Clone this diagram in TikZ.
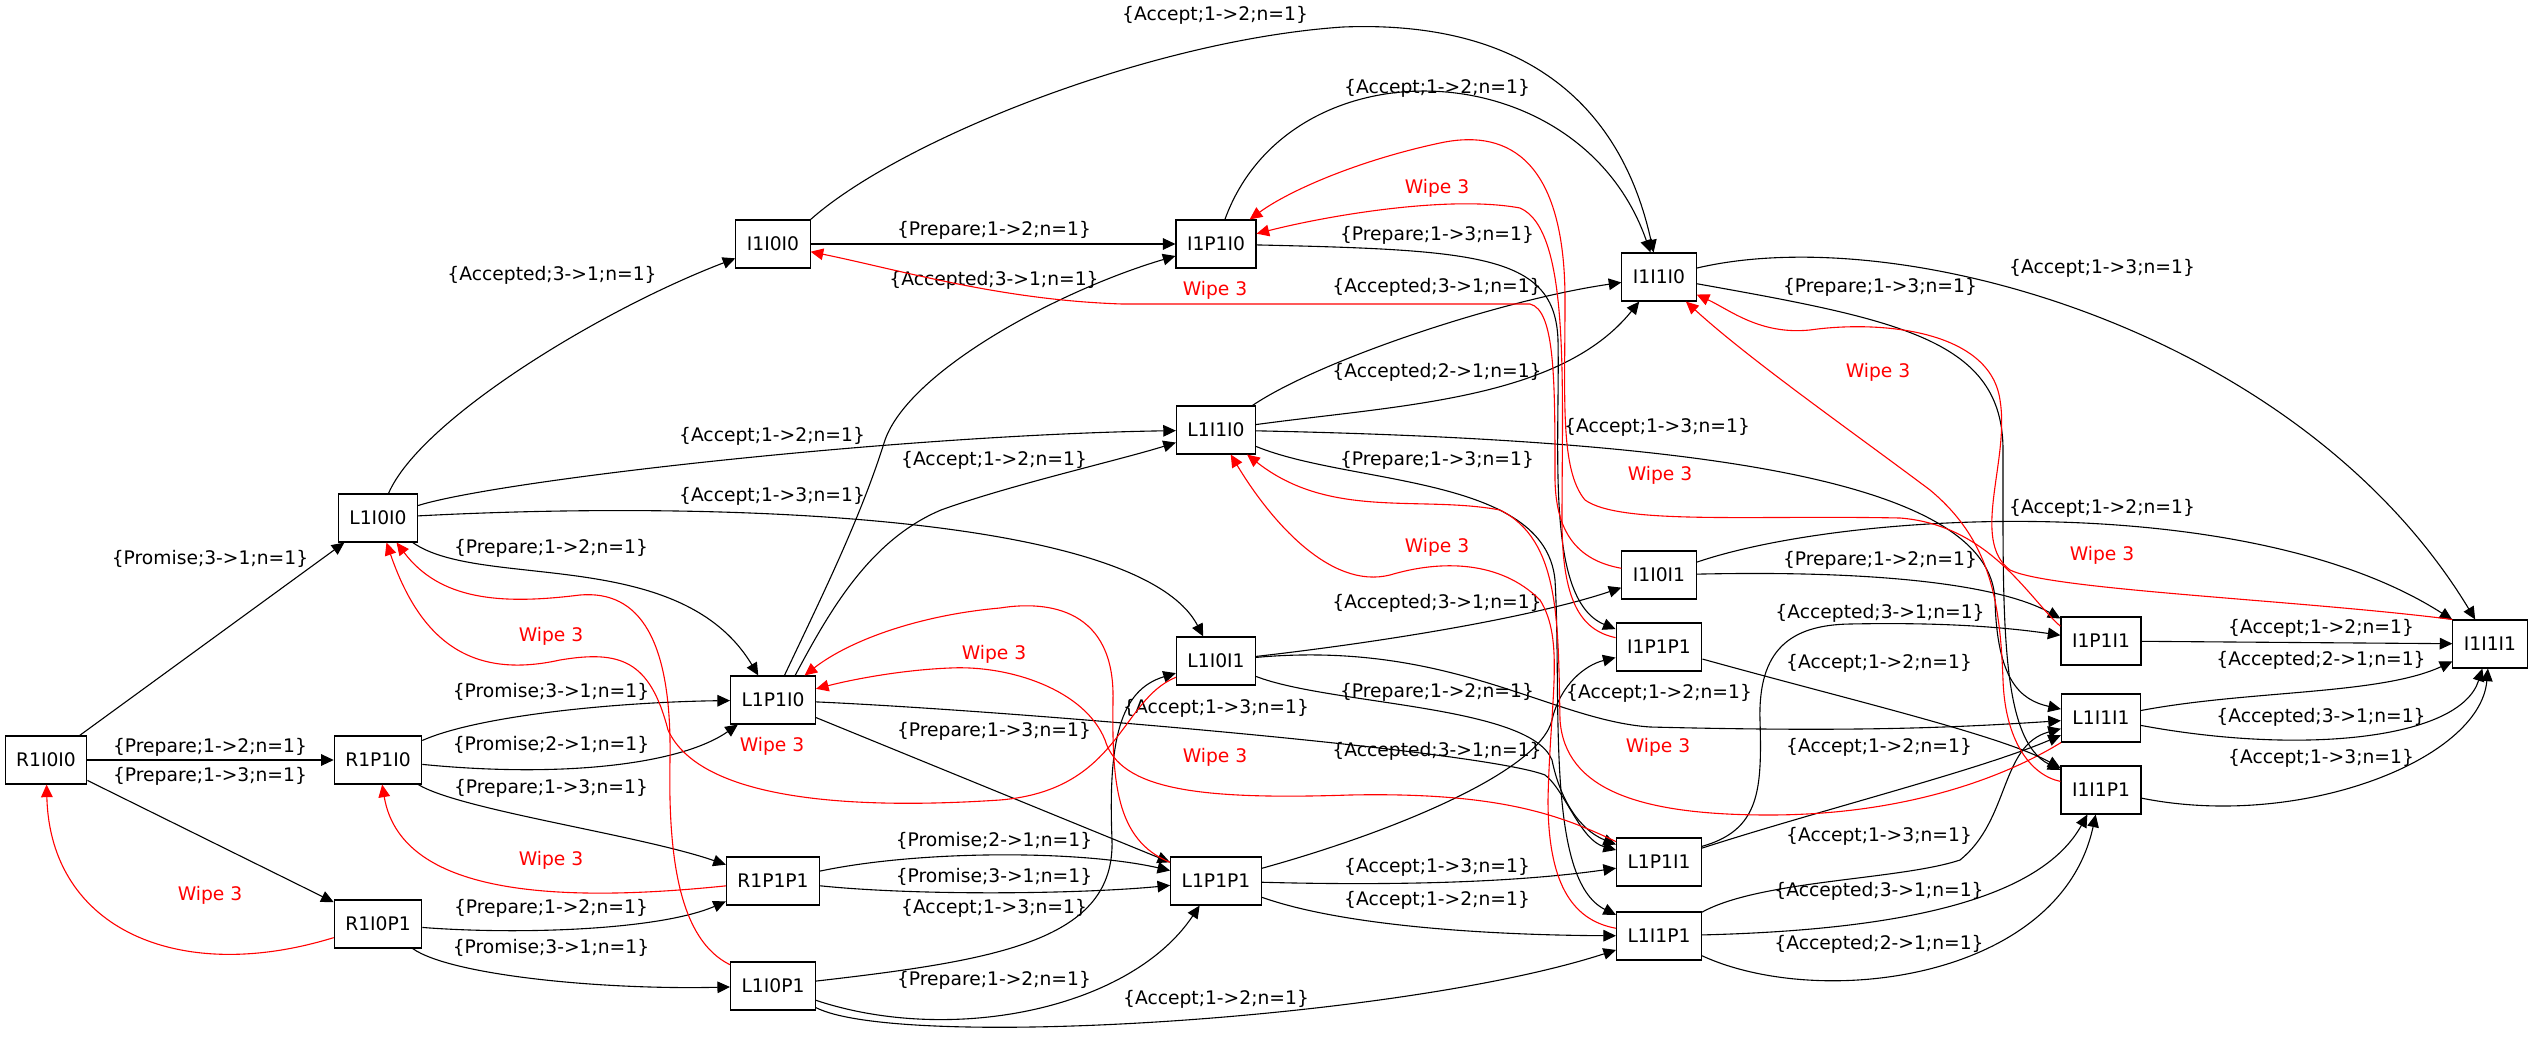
\documentclass[tikz,border=0pt]{standalone}
\usepackage{fontspec}
\setmainfont{DejaVu Sans}
\usetikzlibrary{arrows.meta}

\begin{document}
\begin{tikzpicture}[x=0.5pt,y=-0.5pt,
        font=\fontsize{9.35}{11}\selectfont,
        state/.style={draw, rectangle, line width=0.55pt, inner xsep=5.5pt, minimum height=24pt},
        arrow/.style={-{Triangle[length=6.3pt,width=5.8pt]}, line width=0.55pt},
        wipe/.style={arrow, red},
        lbl/.style={inner sep=0pt},
        wlbl/.style={lbl, text=red}
    ]
        \useasboundingbox (0,0) rectangle (2533,1038);

        % States
        \node[state] (R1I0I0) at (46,760) {R1I0I0};
        \node[state] (L1I0I0) at (378,518) {L1I0I0};
        \node[state] (R1P1I0) at (378,760) {R1P1I0};
        \node[state] (R1I0P1) at (378,924) {R1I0P1};
        \node[state] (I1I0I0) at (773,244) {I1I0I0};
        \node[state] (L1P1I0) at (773,700) {L1P1I0};
        \node[state] (R1P1P1) at (773,881) {R1P1P1};
        \node[state] (L1I0P1) at (773,986) {L1I0P1};
        \node[state] (I1P1I0) at (1216,244) {I1P1I0};
        \node[state] (L1I1I0) at (1216,430) {L1I1I0};
        \node[state] (L1I0I1) at (1216,661) {L1I0I1};
        \node[state] (L1P1P1) at (1216,881) {L1P1P1};
        \node[state] (I1I1I0) at (1659,277) {I1I1I0};
        \node[state] (I1I0I1) at (1659,575) {I1I0I1};
        \node[state] (I1P1P1) at (1659,647) {I1P1P1};
        \node[state] (L1P1I1) at (1659,862) {L1P1I1};
        \node[state] (L1I1P1) at (1659,936) {L1I1P1};
        \node[state] (I1P1I1) at (2101,641) {I1P1I1};
        \node[state] (L1I1I1) at (2101,718) {L1I1I1};
        \node[state] (I1I1P1) at (2101,790) {I1I1P1};
        \node[state] (I1I1I1) at (2490,644) {I1I1I1};

        % R states
        \draw[arrow] (R1I0I0) -- (L1I0I0) node[lbl] at (210,559) {\{Promise;3->1;n=1\}};
        \draw[arrow] (R1I0I0) -- (R1P1I0) node[lbl] at (210,747) {\{Prepare;1->2;n=1\}};
        \draw[arrow] (R1I0I0) -- (R1I0P1) node[lbl] at (210,776) {\{Prepare;1->3;n=1\}};

        \draw[arrow] (R1P1I0) .. controls (480,715) and (620,702) .. (L1P1I0) node[lbl] at (551,692) {\{Promise;3->1;n=1\}};
        \draw[arrow] (R1P1I0) .. controls (560,778) and (680,765) .. (L1P1I0) node[lbl] at (551,745) {\{Promise;2->1;n=1\}};
        \draw[arrow] (R1P1I0) .. controls (460,810) and (640,835) .. (R1P1P1) node[lbl] at (551,788) {\{Prepare;1->3;n=1\}};

        \draw[arrow] (R1I0P1) .. controls (520,935) and (660,930) .. (R1P1P1) node[lbl] at (551,908) {\{Prepare;1->2;n=1\}};
        \draw[arrow] (R1I0P1) .. controls (450,975) and (600,990) .. (L1I0P1) node[lbl] at (551,948) {\{Promise;3->1;n=1\}};
        \draw[wipe] (R1I0P1) .. controls (180,985) and (50,930) .. (R1I0I0) node[wlbl] at (210,895) {Wipe 3};

        \draw[arrow] (R1P1P1) .. controls (920,850) and (1080,850) .. (L1P1P1) node[lbl] at (994,841) {\{Promise;2->1;n=1\}};
        \draw[arrow] (R1P1P1) .. controls (920,896) and (1080,894) .. (L1P1P1) node[lbl] at (994,877) {\{Promise;3->1;n=1\}};
        \draw[wipe] (R1P1P1) .. controls (540,905) and (400,890) .. (R1P1I0) node[wlbl] at (551,860) {Wipe 3};

        % L states
        \draw[arrow] (L1I0I0) .. controls (420,420) and (600,310) .. (I1I0I0) node[lbl] at (552,275) {\{Accepted;3->1;n=1\}};
        \draw[arrow] (L1I0I0) .. controls (500,480) and (900,435) .. (L1I1I0) node[lbl] at (772,436) {\{Accept;1->2;n=1\}};
        \draw[arrow] (L1I0I0) .. controls (720,500) and (1140,515) .. (L1I0I1) node[lbl] at (772,496) {\{Accept;1->3;n=1\}};
        \draw[arrow] (L1I0I0) .. controls (480,590) and (680,545) .. (L1P1I0) node[lbl] at (551,548) {\{Prepare;1->2;n=1\}};

        \draw[arrow] (L1P1I0.65) .. controls (820,600) and (860,520) .. (885,440) .. controls (910,370) and (1060,290) .. (I1P1I0) node[lbl] at (994,280) {\{Accepted;3->1;n=1\}};
        \draw[arrow] (L1P1I0.48) .. controls (830,610) and (870,540) .. (941,510) .. controls (1010,485) and (1120,460) .. (L1I1I0) node[lbl] at (994,460) {\{Accept;1->2;n=1\}};
        \draw[arrow] (L1P1I0) -- (L1P1P1) node[lbl] at (994,731) {\{Prepare;1->3;n=1\}};
        \draw[arrow] (L1P1I0) .. controls (1000,710) and (1480,750) .. (1545,775) .. controls (1565,790) and (1580,840) .. (L1P1I1) node[lbl] at (1216,708) {\{Accept;1->3;n=1\}};

        \draw[arrow] (L1I0P1) .. controls (1000,960) and (1115,940) .. (1112,840) .. controls (1108,740) and (1120,690) .. (L1I0I1) node[lbl] at (994,908) {\{Accept;1->3;n=1\}};
        \draw[arrow] (L1I0P1) .. controls (950,1045) and (1130,1010) .. (L1P1P1) node[lbl] at (994,980) {\{Prepare;1->2;n=1\}};
        \draw[arrow] (L1I0P1) .. controls (900,1050) and (1400,1020) .. (L1I1P1) node[lbl] at (1216,999) {\{Accept;1->2;n=1\}};
        \draw[wipe] (L1I0P1) .. controls (680,940) and (668,860) .. (670,760) .. controls (672,640) and (640,590) .. (580,595) .. controls (500,605) and (440,600) .. (L1I0I0) node[wlbl] at (551,636) {Wipe 3};

        \draw[arrow] (L1I1I0) .. controls (1320,360) and (1500,300) .. (I1I1I0) node[lbl] at (1437,287) {\{Accepted;3->1;n=1\}};
        \draw[arrow] (L1I1I0) .. controls (1400,405) and (1560,400) .. (I1I1I0) node[lbl] at (1437,372) {\{Accepted;2->1;n=1\}};
        \draw[arrow] (L1I1I0) .. controls (1700,440) and (1990,480) .. (1995,600) .. controls (1997,680) and (2020,700) .. (L1I1I1) node[lbl] at (1657,427) {\{Accept;1->3;n=1\}};
        \draw[arrow] (L1I1I0) .. controls (1350,485) and (1545,475) .. (1555,580) .. controls (1562,700) and (1545,880) .. (L1I1P1) node[lbl] at (1437,460) {\{Prepare;1->3;n=1\}};

        \draw[arrow] (L1I0I1) .. controls (1400,640) and (1540,615) .. (I1I0I1) node[lbl] at (1437,603) {\{Accepted;3->1;n=1\}};
        \draw[arrow] (L1I0I1) .. controls (1330,705) and (1530,705) .. (1552,760) .. controls (1560,800) and (1580,830) .. (L1P1I1) node[lbl] at (1437,692) {\{Prepare;1->2;n=1\}};
        \draw[arrow] (L1I0I1) .. controls (1450,640) and (1550,720) .. (1650,727) .. controls (1850,732) and (1950,728) .. (L1I1I1) node[lbl] at (1659,693) {\{Accept;1->2;n=1\}};
        \draw[wipe] (L1I0I1) .. controls (1120,700) and (1120,790) .. (1000,800) .. controls (850,810) and (700,800) .. (668,730) .. controls (650,660) and (620,650) .. (560,660) .. controls (470,680) and (420,640) .. (L1I0I0) node[wlbl] at (772,746) {Wipe 3};

        \draw[arrow] (L1P1P1) .. controls (1400,830) and (1540,770) .. (1552,720) .. controls (1560,685) and (1585,665) .. (I1P1P1) node[lbl] at (1437,751) {\{Accepted;3->1;n=1\}};
        \draw[arrow] (L1P1P1) .. controls (1400,886) and (1520,882) .. (L1P1I1) node[lbl] at (1437,867) {\{Accept;1->3;n=1\}};
        \draw[arrow] (L1P1P1) .. controls (1340,925) and (1480,935) .. (L1I1P1) node[lbl] at (1437,900) {\{Accept;1->2;n=1\}};
        \draw[wipe] (L1P1P1) .. controls (1115,840) and (1112,780) .. (1113,700) .. controls (1115,610) and (1050,600) .. (1000,608) .. controls (920,615) and (850,640) .. (L1P1I0) node[wlbl] at (994,654) {Wipe 3};

        \draw[arrow] (L1P1I1.20) .. controls (1760,830) and (1762,790) .. (1760,720) .. controls (1758,650) and (1790,625) .. (1850,624) .. controls (1950,622) and (2010,628) .. (I1P1I1) node[lbl] at (1880,613) {\{Accepted;3->1;n=1\}};
        \draw[arrow] (L1P1I1) .. controls (1820,810) and (1980,770) .. (L1I1I1) node[lbl] at (1879,747) {\{Accept;1->2;n=1\}};
        \draw[wipe] (L1P1I1) .. controls (1560,815) and (1500,792) .. (1350,795) .. controls (1200,800) and (1120,790) .. (1105,740) .. controls (1085,690) and (1010,665) .. (950,668) .. controls (900,670) and (850,680) .. (L1P1I0) node[wlbl] at (1215,757) {Wipe 3};

        \draw[arrow] (L1I1P1) .. controls (1760,880) and (1900,880) .. (1960,860) .. controls (2010,820) and (2000,745) .. (L1I1I1) node[lbl] at (1879,836) {\{Accept;1->3;n=1\}};
        \draw[arrow] (L1I1P1) .. controls (1900,930) and (2040,900) .. (I1I1P1) node[lbl] at (1879,891) {\{Accepted;3->1;n=1\}};
        \draw[arrow] (L1I1P1) .. controls (1820,1010) and (2060,980) .. (I1I1P1) node[lbl] at (1879,944) {\{Accepted;2->1;n=1\}};
        \draw[wipe] (L1I1P1) .. controls (1570,920) and (1548,880) .. (1548,800) .. controls (1550,700) and (1565,640) .. (1540,600) .. controls (1500,560) and (1440,560) .. (1390,575) .. controls (1330,590) and (1270,520) .. (L1I1I0) node[wlbl] at (1437,547) {Wipe 3};

        \draw[arrow] (L1I1I1) .. controls (2250,690) and (2380,695) .. (I1I1I1) node[lbl] at (2321,660) {\{Accepted;2->1;n=1\}};
        \draw[arrow] (L1I1I1) .. controls (2300,755) and (2460,740) .. (I1I1I1) node[lbl] at (2321,717) {\{Accepted;3->1;n=1\}};
        \draw[wipe] (L1I1I1) .. controls (2000,780) and (1900,815) .. (1769,815) .. controls (1640,815) and (1565,790) .. (1560,720) .. controls (1558,620) and (1560,540) .. (1500,510) .. controls (1420,495) and (1330,520) .. (L1I1I0) node[wlbl] at (1658,747) {Wipe 3};

        % I states
        \draw[arrow] (I1I0I0) -- (I1P1I0) node[lbl] at (994,230) {\{Prepare;1->2;n=1\}};
        \draw[arrow] (I1I0I0.north east) .. controls (900,140) and (1150,40) .. (1343,27) .. controls (1520,20) and (1620,100) .. (I1I1I0) node[lbl] at (1215,15) {\{Accept;1->2;n=1\}};

        \draw[arrow] (I1P1I0) .. controls (1290,40) and (1580,50) .. (I1I1I0) node[lbl] at (1437,88) {\{Accept;1->2;n=1\}};
        \draw[arrow] (I1P1I0) .. controls (1480,250) and (1555,255) .. (1558,340) .. controls (1560,450) and (1545,600) .. (I1P1P1) node[lbl] at (1437,235) {\{Prepare;1->3;n=1\}};

        \draw[arrow] (I1I1I0) .. controls (1900,320) and (2003,340) .. (2003,450) .. controls (2003,620) and (2000,740) .. (I1I1P1) node[lbl] at (1880,287) {\{Prepare;1->3;n=1\}};
        \draw[arrow] (I1I1I0) .. controls (1900,220) and (2300,330) .. (I1I1I1) node[lbl] at (2102,268) {\{Accept;1->3;n=1\}};

        \draw[arrow] (I1I0I1) .. controls (1850,510) and (2250,490) .. (I1I1I1) node[lbl] at (2102,508) {\{Accept;1->2;n=1\}};
        \draw[arrow] (I1I0I1) .. controls (1880,570) and (2000,585) .. (I1P1I1) node[lbl] at (1880,560) {\{Prepare;1->2;n=1\}};
        \draw[wipe] (I1I0I1) .. controls (1575,560) and (1556,530) .. (1555,480) .. controls (1555,380) and (1555,310) .. (1530,304) -- (1122,304) .. controls (1000,300) and (900,270) .. (I1I0I0) node[wlbl] at (1215,290) {Wipe 3};

        \draw[arrow] (I1P1P1) .. controls (1850,700) and (2000,735) .. (I1I1P1) node[lbl] at (1879,663) {\{Accept;1->2;n=1\}};
        \draw[wipe] (I1P1P1) .. controls (1580,630) and (1562,600) .. (1562,520) .. controls (1562,380) and (1570,230) .. (1520,208) .. controls (1450,195) and (1330,215) .. (I1P1I0) node[wlbl] at (1437,188) {Wipe 3};

        \draw[arrow] (I1P1I1) -- (I1I1I1) node[lbl] at (2321,628) {\{Accept;1->2;n=1\}};
        \draw[wipe] (I1P1I1.160) .. controls (2030,600) and (1990,525) .. (1900,518) .. controls (1750,515) and (1620,525) .. (1585,500) .. controls (1560,470) and (1565,400) .. (1565,300) .. controls (1565,150) and (1500,130) .. (1440,143) .. controls (1360,160) and (1290,190) .. (I1P1I0) node[wlbl] at (1660,475) {Wipe 3};

        \draw[arrow] (I1I1P1) .. controls (2300,830) and (2480,760) .. (I1I1I1) node[lbl] at (2321,758) {\{Accept;1->3;n=1\}};
        \draw[wipe] (I1I1P1) .. controls (2030,775) and (2005,740) .. (2003,680) .. controls (2000,600) and (1990,540) .. (1930,490) .. controls (1850,430) and (1750,360) .. (I1I1I0) node[wlbl] at (1878,372) {Wipe 3};

        \draw[wipe] (I1I1I1.north west) .. controls (2300,600) and (2050,590) .. (2010,570) .. controls (1970,540) and (2010,460) .. (2000,400) .. controls (1990,330) and (1880,320) .. (1810,330) .. controls (1760,335) and (1730,310) .. (I1I1I0) node[wlbl] at (2102,555) {Wipe 3};
    \end{tikzpicture}
\end{document}
